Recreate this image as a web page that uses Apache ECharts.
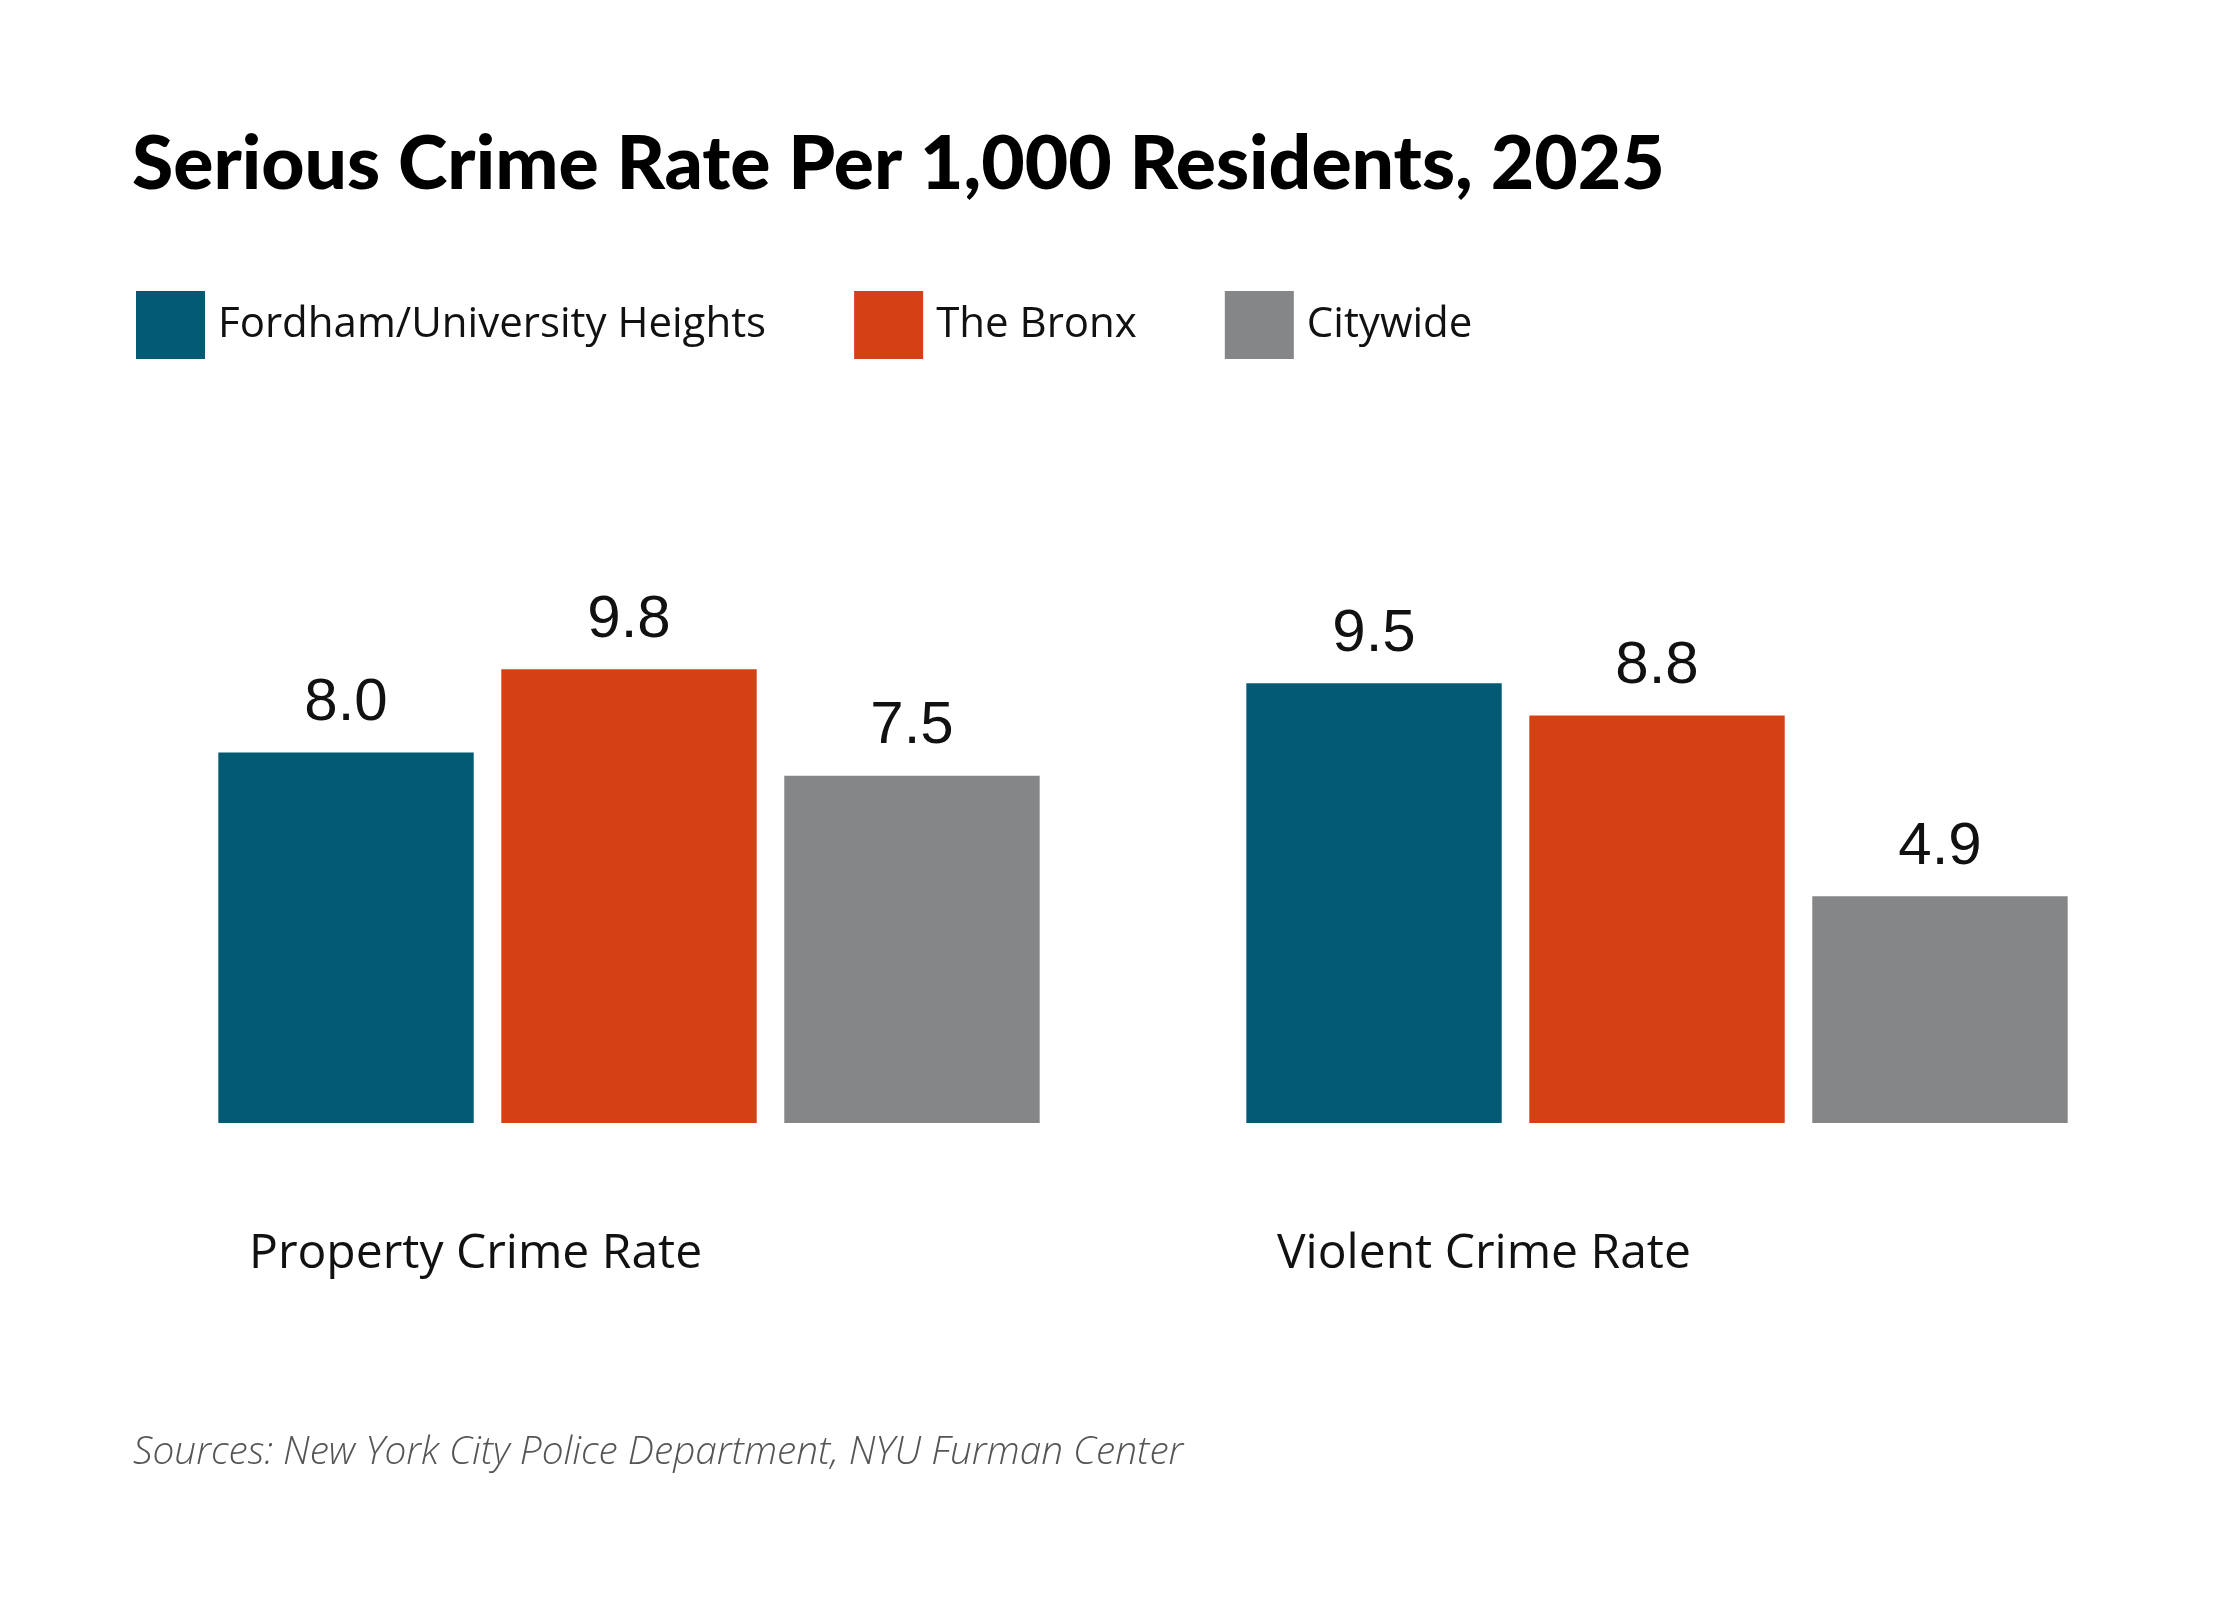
<!DOCTYPE html>
<html>
<head>
<meta charset="utf-8">
<script src="https://cdn.jsdelivr.net/npm/echarts@6/dist/echarts.min.js"></script>
<style>
  html, body { margin: 0; padding: 0; background: #fff; }
  #chart { width: 2240px; height: 1600px; }
</style>
</head>
<body>
<div id="chart"></div>
<script>
// data
var categories = ['Property Crime Rate', 'Violent Crime Rate'];
var fordham = [8.0, 9.5];
var bronx = [9.8, 8.8];
var citywide = [7.5, 4.9];
var seriesNames = ['Fordham/University Heights', 'The Bronx', 'Citywide'];
var colors = ['#025a73', '#d64015', '#858688'];

var chart = echarts.init(document.getElementById('chart'));

function barSeries(name, data, color) {
    return {
        name: name,
        type: 'bar',
        data: data,
        barGap: '10.8%',
        barCategoryGap: '20.1%',
        itemStyle: {color: color},
        label: {
            show: true,
            position: 'top',
            distance: 19,
            fontFamily: 'Liberation Sans',
            fontSize: 60,
            color: '#111',
            formatter: function (p) {
                return p.value.toFixed(1);
            }
        }
    };
}

chart.setOption({
    animation: false,
    color: colors,
    title: [
        {
            text: 'Serious Crime Rate Per 1,000 Residents, 2025',
            left: 132,
            top: 127,
            padding: 0,
            textStyle: {fontFamily: 'Lato', fontWeight: 900, fontSize: 75, color: '#000'}
        },
        {
            text: 'Sources: New York City Police Department, NYU Furman Center',
            left: 133,
            top: 1433,
            padding: 0,
            textStyle: {fontFamily: 'Open Sans', fontStyle: 'italic', fontWeight: 300, fontSize: 38.8, color: '#555'}
        }
    ],
    legend: {
        data: seriesNames,
        left: 136,
        top: 291,
        padding: 0,
        icon: 'rect',
        itemWidth: 69,
        itemHeight: 68,
        itemGap: 88,
        textStyle: {fontFamily: 'Open Sans', fontSize: 42, color: '#111', padding: [0, 0, 0, 8]}
    },
    grid: {left: 115, right: 69, top: 660, bottom: 477},
    xAxis: {
        type: 'category',
        data: categories,
        axisLine: {show: false},
        axisTick: {show: false},
        axisLabel: {
            margin: 107,
            width: 760,
            align: 'center',
            formatter: function (v) { return '{a|' + v + '}'; },
            rich: {
                a: {align: 'left', fontFamily: 'Open Sans', fontSize: 48, color: '#111'}
            }
        }
    },
    yAxis: {
        type: 'value',
        min: 0,
        max: 10,
        show: false,
        splitLine: {show: false}
    },
    series: [
        barSeries(seriesNames[0], fordham, colors[0]),
        barSeries(seriesNames[1], bronx, colors[1]),
        barSeries(seriesNames[2], citywide, colors[2])
    ]
});
</script>
</body>
</html>
